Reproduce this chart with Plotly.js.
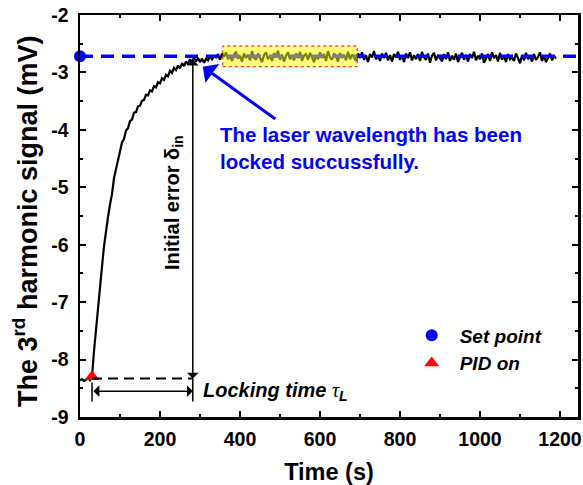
<!DOCTYPE html>
<html>
<head>
<meta charset="utf-8">
<script src="https://cdn.plot.ly/plotly-3.0.1.min.js"></script>
<style>html,body{margin:0;padding:0;background:#fff;}#chart{width:583px;height:485px;}</style>
</head>
<body>
<div id="chart"></div>
<script>
// ---- data ----
const timeStart = 0;      // s
const timeStep = 5;       // s between samples
const signal = [
  -8.36,-8.34,-8.37,-8.35,-8.33,-8.36,
  -8.30,
  -7.85,-7.45,-7.08,-6.72,-6.38,-6.03,-5.75,-5.52,-5.30,-5.12,
  -4.84,-4.68,-4.48,-4.38,-4.22,-4.16,-4.01,-3.97,-3.85,-3.82,
  -3.70,-3.69,-3.59,-3.58,-3.49,-3.48,-3.39,-3.40,-3.31,-3.33,
  -3.24,-3.26,-3.17,-3.19,-3.10,-3.13,-3.04,-3.07,-2.97,-3.01,
  -2.92,-2.96,-2.88,-2.93,-2.84,-2.89,-2.81,-2.86,-2.77,-2.83,
  -2.74,-2.81,-2.75,-2.82,-2.76,-2.83,-2.76,-2.79,-2.71,-2.77,
  -2.72,
  -2.74,-2.68,-2.78,-2.67,-2.73,-2.65,-2.77,-2.70,-2.80,-2.69,
  -2.64,-2.76,-2.71,-2.81,-2.67,-2.75,-2.69,-2.79,-2.63,-2.74,
  -2.78,-2.67,-2.74,-2.82,-2.70,-2.65,-2.77,-2.71,-2.80,-2.66,
  -2.74,-2.62,-2.78,-2.69,-2.81,-2.71,-2.65,-2.77,-2.70,-2.79,
  -2.67,-2.75,-2.64,-2.80,-2.71,-2.68,-2.78,-2.66,-2.74,-2.82,
  -2.70,-2.77,-2.65,-2.75,-2.68,-2.80,-2.63,-2.74,-2.78,-2.67,
  -2.71,-2.81,-2.66,-2.75,-2.69,-2.79,-2.64,-2.77,-2.69,-2.74,
  -2.80,-2.67,-2.75,-2.65,-2.78,-2.70,-2.82,-2.68,-2.74,-2.63,
  -2.77,-2.71,-2.80,-2.67,-2.75,-2.66,-2.79,-2.70,-2.81,-2.68,
  -2.74,-2.64,-2.78,-2.71,-2.82,-2.67,-2.75,-2.65,-2.79,-2.70,
  -2.77,-2.68,-2.80,-2.64,-2.74,-2.78,-2.67,-2.83,-2.71,-2.66,
  -2.79,-2.70,-2.75,-2.81,-2.68,-2.77,-2.65,-2.80,-2.71,-2.78,
  -2.67,-2.82,-2.74,-2.66,-2.78,-2.70,-2.81,-2.68,-2.75,-2.64,
  -2.79,-2.71,-2.77,-2.67,-2.83,-2.74,-2.68,-2.80,-2.65,-2.75,
  -2.70,-2.81,-2.66,-2.78,-2.71,-2.82,-2.68,-2.77,-2.73,-2.80,
  -2.67,-2.75,-2.84,-2.70,-2.79,-2.66,-2.77,-2.71,-2.81,-2.68,
  -2.78,-2.73,-2.65,-2.80,-2.70,-2.82,-2.75,-2.67,-2.79,-2.71,
  -2.76
];
const times = signal.map((_, i) => timeStart + i * timeStep);

const setPointTime = [0];
const setPointValue = [-2.72];
const pidOnTime = [30];
const pidOnValue = [-8.30];

const startLevel = -8.33;     // level before locking (black dashed)
const lockedTime = 282;       // s, end of locking time
const lockedValue = -2.75;
const lockingArrowLevel = -8.55;
const highlightTime = [357, 693];
const highlightValue = [-2.90, -2.54];

const xTickValues = [0, 200, 400, 600, 800, 1000, 1200];
const xTickLabels = ['0', '200', '400', '600', '800', '1000', '1200'];
const yTickValues = [-9, -8, -7, -6, -5, -4, -3, -2];
const yTickLabels = ['-9', '-8', '-7', '-6', '-5', '-4', '-3', '-2'];

// ---- chart ----
const FONT = 'Liberation Sans, Arial, sans-serif';

const traces = [
  {
    x: times, y: signal, type: 'scatter', mode: 'lines',
    line: {color: '#000000', width: 2.2},
    showlegend: false, hoverinfo: 'skip'
  },
  {
    x: setPointTime, y: setPointValue, type: 'scatter', mode: 'markers',
    name: 'Set point', cliponaxis: false,
    marker: {symbol: 'circle', size: 12, color: '#0000ff'}
  },
  {
    x: pidOnTime, y: pidOnValue, type: 'scatter', mode: 'markers',
    name: 'PID on', cliponaxis: false,
    marker: {symbol: 'triangle-up', size: 13, color: '#ff0000'}
  }
];

const axisCommon = {
  showline: true, linecolor: '#000', linewidth: 2.5, mirror: 'ticks',
  ticks: 'inside', ticklen: 6, tickwidth: 2, tickcolor: '#000',
  showgrid: false, zeroline: false,
  tickfont: {family: FONT, size: 19.5, color: '#000', weight: 'bold'},
  tickmode: 'array'
};

const layout = {
  width: 583, height: 485,
  margin: {l: 80, r: 5, t: 15, b: 68},
  paper_bgcolor: '#fff', plot_bgcolor: '#fff',
  font: {family: FONT, color: '#000'},
  xaxis: Object.assign({}, axisCommon, {
    range: [0, 1245], tickvals: xTickValues, ticktext: xTickLabels,
    ticklabelstandoff: 3,
    minor: {tickmode: 'linear', tick0: 0, dtick: 100, ticks: 'inside', ticklen: 3, tickwidth: 2, tickcolor: '#000'},
    title: {text: 'Time (s)', font: {family: FONT, size: 23.5, color: '#000', weight: 'bold'}, standoff: 20}
  }),
  yaxis: Object.assign({}, axisCommon, {
    range: [-9, -2], tickvals: yTickValues, ticktext: yTickLabels,
    ticklabelstandoff: 5,
    minor: {tickmode: 'linear', tick0: -9, dtick: 0.5, ticks: 'inside', ticklen: 3, tickwidth: 2, tickcolor: '#000'}
  }),
  legend: {
    x: 0.65, y: 0.25, xanchor: 'left', yanchor: 'top',
    bgcolor: 'rgba(0,0,0,0)', itemwidth: 46,
    font: {family: FONT, size: 19, color: '#000', weight: 'bold', style: 'italic'}
  },
  shapes: [
    {type: 'line', xref: 'paper', yref: 'y', x0: 0, x1: 1, y0: setPointValue[0], y1: setPointValue[0],
     line: {color: '#0000ff', width: 3.5, dash: '13px,8px'}, layer: 'above'},
    {type: 'rect', xref: 'x', yref: 'y', x0: highlightTime[0], x1: highlightTime[1], y0: highlightValue[0], y1: highlightValue[1],
     fillcolor: 'rgba(255,255,0,0.5)', line: {color: '#ff0000', width: 1, dash: 'dot'}, layer: 'above'},
    {type: 'line', xref: 'x', yref: 'y', x0: pidOnTime[0], x1: lockedTime, y0: startLevel, y1: startLevel,
     line: {color: '#000', width: 2, dash: '10px,6px'}, layer: 'above'},
    {type: 'line', xref: 'x', yref: 'y', x0: lockedTime, x1: lockedTime, y0: startLevel, y1: -8.73,
     line: {color: '#000', width: 1.5}, layer: 'above'},
    {type: 'line', xref: 'x', yref: 'y', x0: pidOnTime[0], x1: pidOnTime[0], y0: -8.40, y1: -8.73,
     line: {color: '#000', width: 1.5}, layer: 'above'}
  ],
  annotations: [
    // y axis title
    {x: -0.11, y: 0.488, xref: 'paper', yref: 'paper', xanchor: 'center', yanchor: 'middle',
     showarrow: false, textangle: -90,
     text: 'The 3<sup>rd</sup> harmonic signal (mV)',
     font: {family: FONT, size: 27, color: '#000', weight: 'bold'}},
    // initial error double arrow
    {x: lockedTime, y: startLevel, ax: lockedTime, ay: lockedValue, xref: 'x', yref: 'y', axref: 'x', ayref: 'y',
     text: '', showarrow: true, arrowhead: 1, startarrowhead: 1, arrowside: 'end+start',
     arrowsize: 1.3, startarrowsize: 1.3, arrowwidth: 1.5, arrowcolor: '#000'},
    // locking time double arrow
    {x: lockedTime, y: lockingArrowLevel, ax: pidOnTime[0], ay: lockingArrowLevel, xref: 'x', yref: 'y', axref: 'x', ayref: 'y',
     text: '', showarrow: true, arrowhead: 1, startarrowhead: 1, arrowside: 'end+start',
     arrowsize: 1.3, startarrowsize: 1.3, arrowwidth: 1.5, arrowcolor: '#000'},
    // blue arrow
    {x: 307, y: -2.90, ax: 492, ay: -3.83, xref: 'x', yref: 'y', axref: 'x', ayref: 'y',
     text: '', showarrow: true, arrowhead: 1, arrowsize: 1.3, arrowwidth: 3, arrowcolor: '#0000ff'},
    {x: 345, y: -4.32, xref: 'x', yref: 'y', xanchor: 'left', yanchor: 'middle', align: 'left', showarrow: false,
     text: 'The laser wavelength has been<br>locked succussfully.',
     font: {family: FONT, size: 20.5, color: '#0000ff', weight: 'bold'}},
    {x: 232, y: -5.26, xref: 'x', yref: 'y', xanchor: 'center', yanchor: 'middle', showarrow: false, textangle: -90,
     text: 'Initial error δ<sub>in</sub>',
     font: {family: FONT, size: 20, color: '#000', weight: 'bold'}},
    {x: 302, y: -8.56, xref: 'x', yref: 'y', xanchor: 'left', yanchor: 'middle', showarrow: false,
     text: 'Locking time <span style="font-family:Liberation Serif,Times New Roman,serif;font-weight:normal">τ</span><sub>L</sub>',
     font: {family: FONT, size: 20, color: '#000', weight: 'bold', style: 'italic'}}
  ]
};

Plotly.newPlot('chart', traces, layout, {displayModeBar: false, staticPlot: true});
</script>
</body>
</html>
